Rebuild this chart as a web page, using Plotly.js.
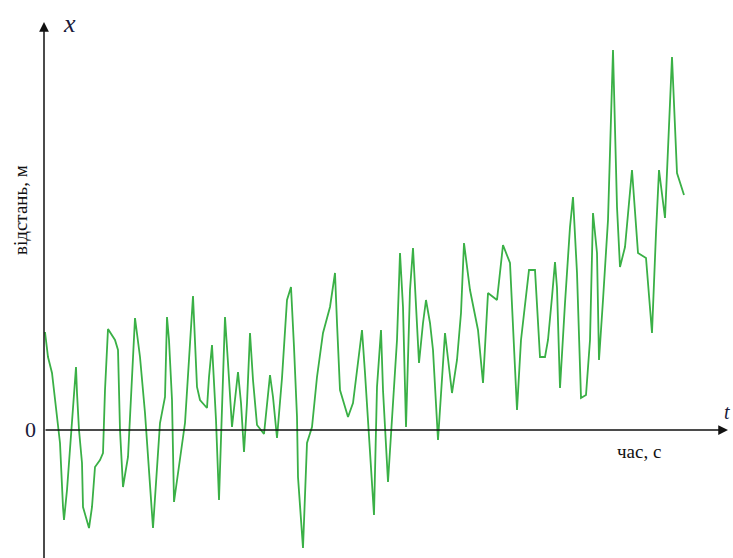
<!DOCTYPE html>
<html>
<head>
<meta charset="utf-8">
<script src="https://cdn.plot.ly/plotly-3.0.1.min.js"></script>
<style>html,body{margin:0;padding:0;background:#fff;}#chart{width:733px;height:558px;}</style>
</head>
<body>
<div id="chart"></div>
<script>
// time (arbitrary units)
const timeValues = [1,4,8,13,16,19,20,23,28,32,33,35,38,39,45,48,51,56,59,61,64,71,74,76,79,84,91,96,101,109,116,121,123,125,128,130,141,144,149,153,156,163,165,168,172,175,178,181,184,188,194,197,200,203,206,209,213,220,226,229,233,238,243,247,250,253,254,259,263,268,273,279,286,291,293,296,304,309,318,321,330,333,337,339,344,353,356,359,362,366,369,371,375,379,382,386,389,394,401,408,413,417,420,426,434,439,444,453,459,466,473,477,485,491,494,496,501,504,508,511,513,516,521,526,529,533,537,542,546,549,553,555,559,564,569,573,576,581,588,594,602,608,612,615,621,628,633,640];
// distance (arbitrary units)
const distanceValues = [98,73,57,17,-13,-77,-90,-60,7,63,37,0,-33,-77,-98,-77,-37,-30,-23,40,101,90,80,0,-57,-27,112,73,17,-98,7,33,113,90,30,-72,7,55,134,43,30,22,53,85,10,-70,17,113,67,3,58,27,-22,27,97,50,5,-4,55,33,-8,52,130,143,83,13,-47,-118,-13,3,53,97,123,157,107,40,13,27,100,57,-85,43,100,40,-52,90,177,123,3,140,182,143,67,107,130,107,80,-10,97,37,70,117,187,140,100,47,137,130,185,167,20,90,160,160,107,73,73,90,133,168,142,42,127,203,233,157,32,35,90,217,177,70,130,210,380,223,163,183,260,177,172,97,197,260,212,373,257,235];

const xAxisLabel = "час, с";
const yAxisLabel = "відстань, м";
const yAxisSymbol = "x";
const xAxisSymbol = "t";
const originLabel = "0";

const serif = "Liberation Serif, DejaVu Serif, serif";

const trace = {
  x: timeValues,
  y: distanceValues,
  type: "scatter",
  mode: "lines",
  line: {color: "rgb(58,176,70)", width: 1.8},
  hoverinfo: "skip"
};

const layout = {
  width: 733,
  height: 558,
  margin: {l: 0, r: 0, t: 0, b: 0},
  paper_bgcolor: "#fff",
  plot_bgcolor: "#fff",
  showlegend: false,
  xaxis: {range: [-44, 689], visible: false, fixedrange: true},
  yaxis: {range: [-128, 430], visible: false, fixedrange: true},
  annotations: [
    {x: 0, y: 408, ax: 0, ay: -135, xref: "x", yref: "y", axref: "x", ayref: "y",
     text: "", showarrow: true, arrowhead: 2, arrowsize: 1.3, arrowwidth: 1.5, arrowcolor: "#111"},
    {x: 684, y: 0, ax: 0, ay: 0, xref: "x", yref: "y", axref: "x", ayref: "y",
     text: "", showarrow: true, arrowhead: 2, arrowsize: 1.3, arrowwidth: 1.5, arrowcolor: "#111"},
    {x: 25, y: 407, xref: "x", yref: "y", text: "<i>" + yAxisSymbol + "</i>", showarrow: false,
     font: {family: serif, size: 26, color: "#1a1a3a"}},
    {x: 0.999, y: 0.262, xref: "paper", yref: "paper", xanchor: "right", yanchor: "middle",
     text: "<i>" + xAxisSymbol + "</i>", showarrow: false,
     font: {family: serif, size: 20, color: "#1a1a3a"}},
    {x: -14, y: 1, xref: "x", yref: "y", text: originLabel, showarrow: false,
     font: {family: serif, size: 22, color: "#1a1a3a"}},
    {x: 595, y: -21, xref: "x", yref: "y", text: xAxisLabel, showarrow: false,
     font: {family: serif, size: 19, color: "#111"}},
    {x: -24, y: 220, xref: "x", yref: "y", text: yAxisLabel, showarrow: false, textangle: -90,
     font: {family: serif, size: 19, color: "#111"}}
  ]
};

Plotly.newPlot("chart", [trace], layout, {displayModeBar: false, staticPlot: true});
</script>
</body>
</html>
